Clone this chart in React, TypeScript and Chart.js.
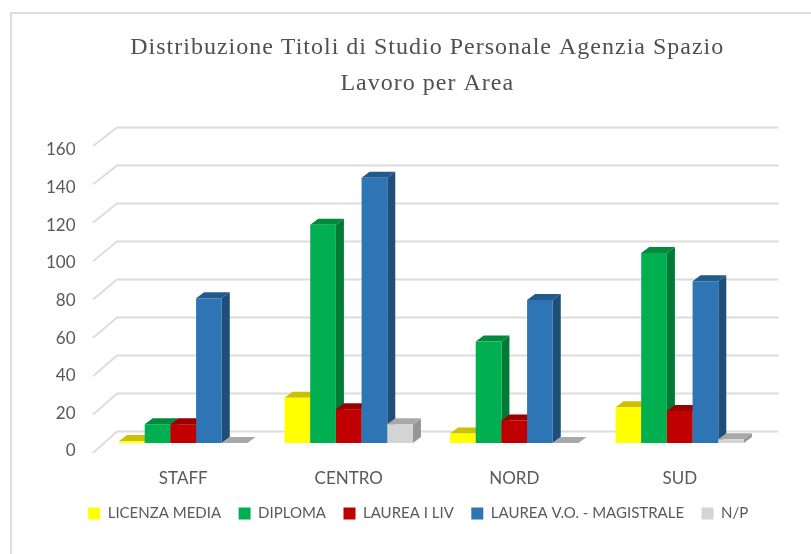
import React, { useEffect, useRef } from "react";
import { Chart, registerables } from "chart.js";

Chart.register(...registerables);

const categories = ["STAFF", "CENTRO", "NORD", "SUD"];
const licenzaMedia = [1, 24, 5, 19];
const diploma = [10, 116, 54, 101];
const laureaI = [10, 18, 12, 17];
const laureaVO = [77, 141, 76, 86];
const np = [0, 10, 0, 2];
const titleLines = ["Distribuzione Titoli di Studio Personale Agenzia Spazio", "Lavoro per Area"];

const TEXT = "#595959";
const SANS = "Lato";

const seriesDefs = [
  { label: "LICENZA MEDIA", data: licenzaMedia, front: "#FFFF00", side: "#B8B800", top: "#CCC000" },
  { label: "DIPLOMA", data: diploma, front: "#00B050", side: "#007A37", top: "#008A3E" },
  { label: "LAUREA I LIV", data: laureaI, front: "#C00000", side: "#860000", top: "#9A0000" },
  { label: "LAUREA V.O. - MAGISTRALE", data: laureaVO, front: "#2E75B6", side: "#1F4E79", top: "#215A8C" },
  { label: "N/P", data: np, front: "#D4D4D4", side: "#969696", top: "#A8A8A8" },
];

const depth = { dx: 8, dy: 6 };
const barLift = 8;
const wallDx = 24;

function poly(ctx: CanvasRenderingContext2D, pts: number[][], color: string) {
  ctx.beginPath();
  pts.forEach((p, i) => (i ? ctx.lineTo(p[0], p[1]) : ctx.moveTo(p[0], p[1])));
  ctx.closePath();
  ctx.fillStyle = color;
  ctx.fill();
}

function shiftBox(box: any, dx: number, spacing: string) {
  if (!box || box.__wrapped) return;
  const orig = box.draw;
  box.draw = function (...a: any[]) {
    const ctx = this.ctx;
    ctx.save();
    ctx.translate(dx, 0);
    (ctx as any).letterSpacing = spacing;
    orig.apply(this, a);
    ctx.restore();
  };
  box.__wrapped = true;
}

const depthPlugin = {
  id: "depth3d",
  beforeDraw(chart: any) {
    const { ctx, width, height } = chart;
    shiftBox(chart.titleBlock, 46, "1px");
    shiftBox(chart.legend, 37, "0px");
    ctx.save();
    ctx.strokeStyle = "#DDDDDD";
    ctx.lineWidth = 2;
    ctx.beginPath();
    ctx.moveTo(11, height);
    ctx.lineTo(11, 13);
    ctx.lineTo(width, 13);
    ctx.stroke();
    ctx.restore();
  },
  beforeDatasetsDraw(chart: any) {
    const { ctx, chartArea } = chart;
    const yScale = chart.scales.y;
    ctx.save();
    ctx.strokeStyle = "#DCDCDC";
    ctx.lineWidth = 1.8;
    yScale.ticks.forEach((t: any) => {
      const y = yScale.getPixelForValue(t.value);
      const k = t.value / yScale.max;
      const start = y + 2 - 6 * k;
      const back = y - 19.5 - 3 * k;
      ctx.beginPath();
      ctx.moveTo(chartArea.left - 7.5, start);
      ctx.lineTo(chartArea.left - 7.5 + wallDx, back);
      ctx.lineTo(chartArea.right + 16, back);
      ctx.stroke();
    });
    ctx.restore();

    // Left-to-right painting, so each bar hides the side face of its left neighbour.
    ctx.save();
    ctx.translate(0, -barLift);
    seriesDefs.forEach((def, index) => {
      const meta = chart.getDatasetMeta(index);
      meta.data.forEach((bar: any) => {
        const { x, y, base, width } = bar.getProps(["x", "y", "base", "width"], true);
        const l = x - width / 2;
        const r = x + width / 2;
        poly(ctx, [[r, y], [r + depth.dx, y - depth.dy], [r + depth.dx, base - depth.dy], [r, base]], def.side);
        poly(ctx, [[l, y], [l + depth.dx, y - depth.dy], [r + depth.dx, y - depth.dy], [r, y]], def.top);
      });
      meta.controller.draw();
    });
    ctx.restore();
    return false;
  },
};

export default function App() {
  const ref = useRef<HTMLCanvasElement>(null);
  useEffect(() => {
    const chart = new Chart(ref.current as HTMLCanvasElement, {
      type: "bar",
      plugins: [depthPlugin],
      data: {
        labels: categories,
        datasets: seriesDefs.map((s) => ({
          label: s.label,
          data: s.data,
          backgroundColor: s.front,
          borderWidth: 0,
          categoryPercentage: 0.776,
          barPercentage: 1,
        })),
      },
      options: {
        responsive: false,
        animation: false,
        devicePixelRatio: 1,
        layout: { padding: { left: 0, right: 48.5, top: 0, bottom: 23 } },
        plugins: {
          tooltip: { enabled: false },
          title: {
            display: true,
            text: titleLines,
            color: "#505050",
            font: { family: "Liberation Serif", size: 24, weight: "normal", lineHeight: 36 / 24 },
            padding: { top: 30, bottom: 48 },
          },
          legend: {
            position: "bottom",
            labels: {
              color: TEXT,
              font: { family: SANS, size: 15 },
              boxWidth: 12,
              boxHeight: 12,
              padding: 17.5,
            },
          },
        },
        scales: {
          x: {
            grid: { display: false, drawTicks: false },
            border: { display: false },
            ticks: { color: TEXT, font: { family: SANS, size: 17 }, padding: 17, maxRotation: 0 },
            afterFit: (a: any) => {
              a.height = 37.5;
            },
          },
          y: {
            min: 0,
            max: 160,
            grid: { display: false, drawTicks: false },
            border: { display: false },
            ticks: { stepSize: 20, color: TEXT, font: { family: SANS, size: 17 }, padding: 25 },
            afterFit: (a: any) => {
              a.width = 100.5;
            },
          },
        },
      },
    } as any);
    return () => chart.destroy();
  }, []);
  return (
    <div style={{ position: "absolute", left: 0, top: 0, width: 811, height: 554 }}>
      <canvas ref={ref} width={811} height={554} style={{ display: "block", filter: "blur(0.4px)" }} />
    </div>
  );
}
